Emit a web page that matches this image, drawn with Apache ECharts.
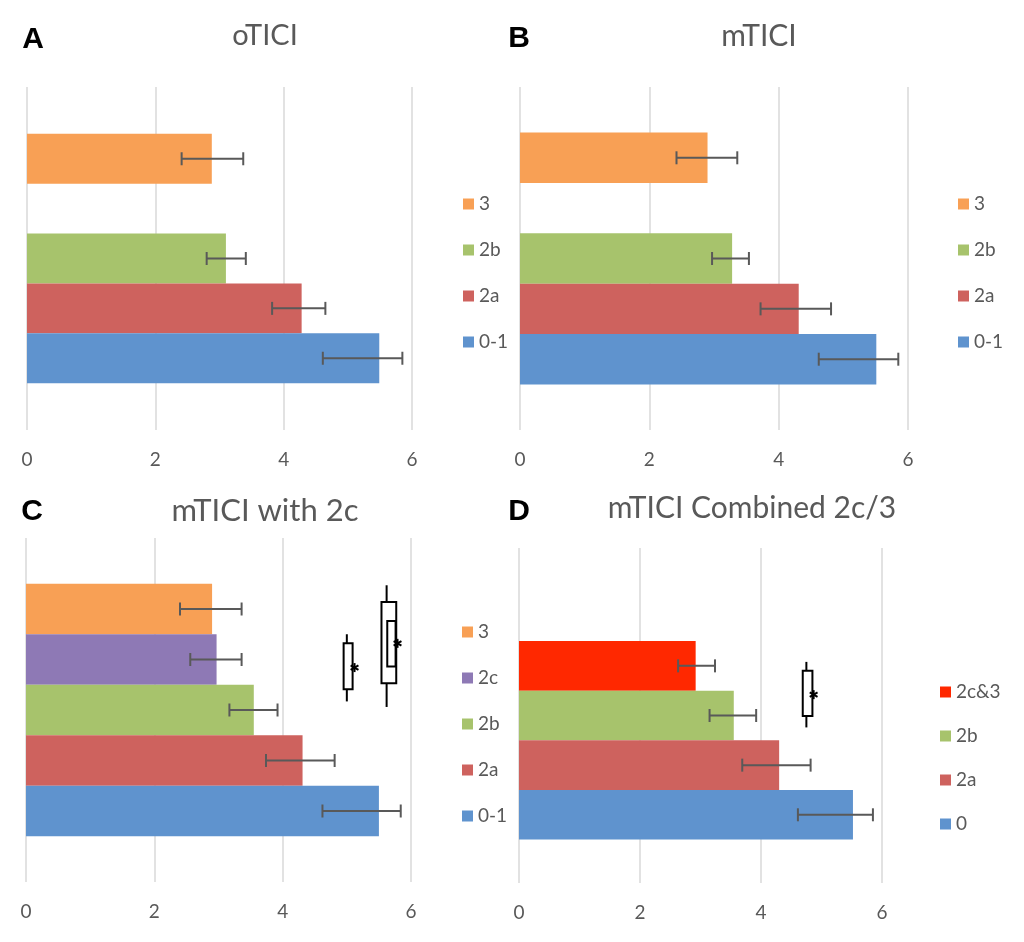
<!DOCTYPE html>
<html>
<head>
<meta charset="utf-8">
<script src="https://cdn.jsdelivr.net/npm/echarts@6/dist/echarts.min.js"></script>
<style>
html,body{margin:0;padding:0;background:#fff;}
#chart{width:1024px;height:942px;}
</style>
</head>
<body>
<div id="chart"></div>
<script>
// ---------------- DATA ----------------
const panelLetters = ['A', 'B', 'C', 'D'];
const panelTitles = ['oTICI', 'mTICI', 'mTICI with 2c', 'mTICI Combined 2c/3'];
const axisMin = 0, axisMax = 6, axisStep = 2;   // tick labels 0, 2, 4, 6

// bar slots listed from top to bottom (series order)
const slotNamesABC = ['3', '2c', '2b', '2a', '0-1'];
const slotNamesD = ['3', '2c&3', '2b', '2a', '0'];

const legendA = ['3', '2b', '2a', '0-1'];
const legendB = ['3', '2b', '2a', '0-1'];
const legendC = ['3', '2c', '2b', '2a', '0-1'];
const legendD = ['2c&3', '2b', '2a', '0'];

const meanA = [2.88, null, 3.10, 4.28, 5.49];
const lowA  = [2.41, null, 2.80, 3.82, 4.61];
const highA = [3.37, null, 3.41, 4.65, 5.85];

const meanB = [2.90, null, 3.28, 4.31, 5.51];
const lowB  = [2.42, null, 2.97, 3.72, 4.62];
const highB = [3.36, null, 3.54, 4.81, 5.85];

const meanC = [2.90, 2.97, 3.55, 4.31, 5.50];
const lowC  = [2.40, 2.56, 3.17, 3.74, 4.62];
const highC = [3.36, 3.36, 3.92, 4.81, 5.84];

const meanD = [null, 2.92, 3.55, 4.30, 5.52];
const lowD  = [null, 2.63, 3.15, 3.69, 4.61];
const highD = [null, 3.24, 3.92, 4.82, 5.85];

// significance markers, in data units: x = value axis, s = bar slots counted from the bottom
// boxes: [xLeft, xRight, sBottom, sTop]; whiskers: [x, sBottom, sTop]; stars: [x, s]
const boxesC = [[4.95, 5.09, 2.91, 3.82], [5.54, 5.77, 3.03, 4.64], [5.63, 5.76, 3.36, 4.26]];
const whiskersC = [[5.00, 2.67, 4.00], [5.62, 2.56, 4.97]];
const starsC = [[5.12, 3.34], [5.79, 3.82]];
const boxesD = [[4.69, 4.85, 2.49, 3.40]];
const whiskersD = [[4.75, 2.26, 3.58]];
const starsD = [[4.87, 2.92]];

// ---------------- STYLE / LAYOUT ----------------
const FONT = 'Lato, "Open Sans", sans-serif';
const GRAY = '#595959';
const colorOf = {
  '3': '#F8A055', '2c': '#8E79B5', '2b': '#A7C36C', '2a': '#CE625E',
  '0-1': '#5F93CE', '0': '#5F93CE', '2c&3': '#FF2800'
};

const panels = [
  { names: slotNamesABC, mean: meanA, low: lowA, high: highA, legend: legendA,
    grid: { left: 27, top: 87, width: 385, height: 343 }, gap: 0.273,
    legendPos: { left: 463, top: 194, gap: 26 }, titleXY: [265, 36], letterXY: [33, 40], titleSize: 29 },
  { names: slotNamesABC, mean: meanB, low: lowB, high: highB, legend: legendB,
    grid: { left: 520, top: 87, width: 388, height: 343 }, gap: 0.266,
    legendPos: { left: 958, top: 194, gap: 26 }, titleXY: [759, 36], letterXY: [519, 39], titleSize: 30 },
  { names: slotNamesABC, mean: meanC, low: lowC, high: highC, legend: legendC,
    grid: { left: 26, top: 538, width: 385, height: 344 }, gap: 0.266,
    legendPos: { left: 462, top: 622, gap: 26 }, titleXY: [265, 511], letterXY: [32, 512],
    boxes: boxesC, whiskers: whiskersC, stars: starsC, titleSize: 31 },
  { names: slotNamesD, mean: meanD, low: lowD, high: highD, legend: legendD,
    grid: { left: 519, top: 548, width: 363, height: 335 }, gap: 0.259,
    legendPos: { left: 940, top: 682, gap: 24 }, titleXY: [752, 508], letterXY: [519, 512],
    boxes: boxesD, whiskers: whiskersD, stars: starsD, titleSize: 30 }
];

// ---------------- OPTION BUILD ----------------
const grid = [], xAxis = [], yAxis = [], series = [], legend = [], graphic = [];

function slotGeom(params, gap, n) {
  const cs = params.coordSys;
  const total = cs.height * (1 - gap);
  return { center: cs.y + cs.height / 2, total: total, bw: total / n };
}

panels.forEach(function (P, p) {
  const n = P.names.length;
  grid.push(Object.assign({}, P.grid));
  xAxis.push({
    type: 'value', gridIndex: p, min: axisMin, max: axisMax, interval: axisStep,
    axisLine: { show: false }, axisTick: { show: false },
    splitLine: { show: true, lineStyle: { color: '#d9d9d9', width: 1.5 } },
    axisLabel: { color: GRAY, fontSize: 19, fontFamily: FONT, margin: 20 }
  });
  yAxis.push({ type: 'category', gridIndex: p, data: ['all'], show: false });

  P.names.forEach(function (name, i) {
    series.push({
      type: 'bar', name: name, xAxisIndex: p, yAxisIndex: p,
      data: [P.mean[i] == null ? '-' : P.mean[i]],
      barGap: '0%', barCategoryGap: (P.gap * 100) + '%',
      itemStyle: { color: colorOf[name] },
      silent: true, animation: false
    });
  });

  // error bars
  const errData = [];
  P.names.forEach(function (name, i) {
    if (P.low[i] != null) errData.push([i, P.low[i], P.high[i], 0]);
  });
  series.push({
    type: 'custom', name: 'err' + p, xAxisIndex: p, yAxisIndex: p, z: 5,
    encode: { x: [1, 2], y: 3 }, data: errData, silent: true, animation: false,
    renderItem: function (params, api) {
      const g = slotGeom(params, P.gap, n);
      const y = g.center - g.total / 2 + (api.value(0) + 0.5) * g.bw;
      const x1 = api.coord([api.value(1), 0])[0];
      const x2 = api.coord([api.value(2), 0])[0];
      const h = 6.5;
      const st = { stroke: GRAY, lineWidth: 2 };
      return { type: 'group', children: [
        { type: 'line', shape: { x1: x1, y1: y, x2: x2, y2: y }, style: st },
        { type: 'line', shape: { x1: x1, y1: y - h, x2: x1, y2: y + h }, style: st },
        { type: 'line', shape: { x1: x2, y1: y - h, x2: x2, y2: y + h }, style: st }
      ] };
    }
  });

  if (P.boxes) {
    const sy = function (params, s) {
      const g = slotGeom(params, P.gap, n);
      return g.center + g.total / 2 - s * g.bw;
    };
    series.push({
      type: 'custom', name: 'whisk' + p, xAxisIndex: p, yAxisIndex: p, z: 6,
      encode: { x: 0, y: 3 }, data: P.whiskers.map(function (w) { return [w[0], w[1], w[2], 0]; }),
      silent: true, animation: false,
      renderItem: function (params, api) {
        const x = api.coord([api.value(0), 0])[0];
        return { type: 'line', shape: { x1: x, y1: sy(params, api.value(1)), x2: x, y2: sy(params, api.value(2)) },
          style: { stroke: '#000', lineWidth: 2 } };
      }
    });
    series.push({
      type: 'custom', name: 'box' + p, xAxisIndex: p, yAxisIndex: p, z: 7,
      encode: { x: [0, 1], y: 4 }, data: P.boxes.map(function (b) { return [b[0], b[1], b[2], b[3], 0]; }),
      silent: true, animation: false,
      renderItem: function (params, api) {
        const xa = api.coord([api.value(0), 0])[0];
        const xb = api.coord([api.value(1), 0])[0];
        const yb = sy(params, api.value(2));
        const yt = sy(params, api.value(3));
        return { type: 'rect', shape: { x: xa, y: yt, width: xb - xa, height: yb - yt },
          style: { fill: '#fff', stroke: '#000', lineWidth: 2 } };
      }
    });
    series.push({
      type: 'custom', name: 'star' + p, xAxisIndex: p, yAxisIndex: p, z: 8,
      encode: { x: 0, y: 2 }, data: P.stars.map(function (s) { return [s[0], s[1], 0]; }),
      silent: true, animation: false,
      renderItem: function (params, api) {
        const cx = api.coord([api.value(0), 0])[0];
        const cy = sy(params, api.value(1));
        const r = 4.5;
        const kids = [90, 30, -30].map(function (a) {
          const rad = a * Math.PI / 180;
          const dx = r * Math.cos(rad), dy = r * Math.sin(rad);
          return { type: 'line', shape: { x1: cx - dx, y1: cy - dy, x2: cx + dx, y2: cy + dy },
            style: { stroke: '#000', lineWidth: 2 } };
        });
        return { type: 'group', children: kids };
      }
    });
  }

  legend.push({
    orient: 'vertical', left: P.legendPos.left, top: P.legendPos.top, padding: 0,
    itemWidth: 11, itemHeight: 11, itemGap: P.legendPos.gap, icon: 'rect',
    data: P.legend, selectedMode: false,
    textStyle: { fontFamily: FONT, fontSize: 19, color: GRAY, lineHeight: 20 }
  });

  graphic.push({
    type: 'text', x: P.titleXY[0], y: P.titleXY[1], silent: true,
    style: { text: panelTitles[p], align: 'center', verticalAlign: 'middle',
      fontFamily: FONT, fontSize: P.titleSize, fill: GRAY }
  });
  graphic.push({
    type: 'text', x: P.letterXY[0], y: P.letterXY[1], silent: true,
    style: { text: panelLetters[p], align: 'center', verticalAlign: 'middle',
      fontFamily: '"Liberation Sans", Arial, sans-serif', fontWeight: 'bold', fontSize: 30, fill: '#000' }
  });
});

const chart = echarts.init(document.getElementById('chart'), null, { renderer: 'canvas' });
chart.setOption({
  backgroundColor: '#ffffff',
  animation: false,
  grid: grid, xAxis: xAxis, yAxis: yAxis, series: series, legend: legend, graphic: graphic
});
</script>
</body>
</html>
